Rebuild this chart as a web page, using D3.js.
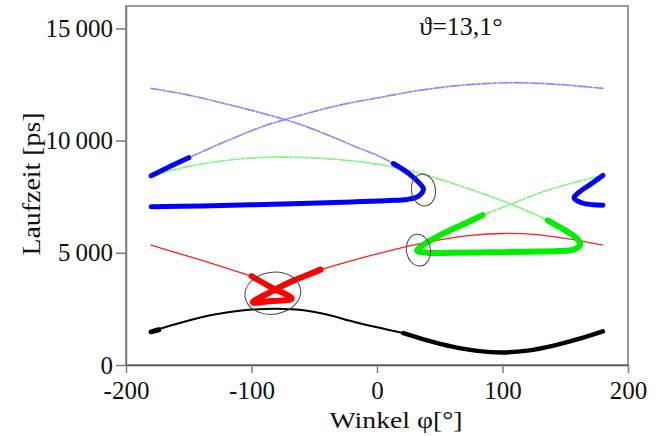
<!DOCTYPE html>
<html>
<head>
<meta charset="utf-8">
<script src="https://cdn.jsdelivr.net/npm/d3@7"></script>
<style>
  body { margin: 0; background: #fff; }
  text { font-family: "Liberation Serif", "DejaVu Serif", serif; }
</style>
</head>
<body>
<div id="chart"></div>
<script>
// tick values
var xTicks = [-200, -100, 0, 100, 200]
var yTicks = [0, 5000, 10000, 15000]

// curves, [phi in deg, Laufzeit in ps]
var blackThin = [[-180,1500],[-160,1830],[-140,2130],[-120,2340],[-100,2470],[-80,2510],[-60,2450],[-40,2250],[-20,1950],[0,1680],[21,1420]]
var blackThick = [[21,1420],[40,1100],[60,820],[80,630],[100,560],[120,640],[140,850],[160,1150],[180,1500]]
var blackStart = [[-180,1480],[-174,1570]]

var redThinA = [[-180,5340],[-140,4670],[-100,3960]]
var redLoop = [[-100,3960],[-85,3480],[-68,2960],[-84,2850],[-99,2790],[-85,3250],[-70,3680],[-55,4020],[-45,4250]]
var redThinB = [[-45,4250],[-20,4650],[0,4950],[25,5300],[50,5580],[75,5780],[100,5860],[125,5820],[150,5640],[180,5340]]

var blueFadedA = [[-180,12330],[-150,12030],[-120,11630],[-90,11200],[-60,10700],[-37,10200],[-15,9680],[0,9350],[13,8980]]
var blueThickA = [[13,8980],[25,8550],[33,8150],[37,7850],[33,7520],[24,7380],[10,7330],[-20,7270],[-60,7200],[-100,7140],[-140,7090],[-180,7050]]
var blueThickR = [[180,8450],[170,8050],[161,7700],[157,7450],[163,7230],[172,7140],[180,7120]]
var blueThickL = [[-180,8430],[-165,8850],[-150,9240]]
var blueFadedB = [[-150,9240],[-120,9980],[-90,10650],[-60,11150],[-30,11580],[0,11900],[35,12250],[70,12480],[107,12580],[140,12520],[180,12330]]

var greenFadedA = [[-180,8430],[-150,8850],[-120,9120],[-90,9250],[-60,9250],[-30,9150],[0,8950],[30,8600],[60,8100],[90,7520],[115,6980],[136,6450]]
var greenThick = [[136,6450],[150,6000],[159,5650],[162,5380],[157,5150],[145,5080],[120,5050],[90,5020],[60,5000],[40,5000],[32,5100],[36,5320],[50,5780],[68,6250],[84,6680]]
var greenFadedB = [[84,6680],[106,7150],[130,7680],[155,8100],[180,8450]]

// hand drawn rings, centres in data units
var rings = [[-83,3200],[37,7800],[33,5120]]
var angle = "ϑ=13,1°"

var W = 662, H = 436
var margin = {left: 126, right: 34, top: 6, bottom: 71}
var width = W - margin.left - margin.right
var height = H - margin.top - margin.bottom

var svg = d3.select("#chart").append("svg")
  .attr("width", W)
  .attr("height", H)

var x = d3.scaleLinear().domain([-200, 200]).range([margin.left, margin.left + width])
var y = d3.scaleLinear().domain([0, 16000]).range([margin.top + height, margin.top])

// frame
svg.append("rect")
  .attr("x", margin.left).attr("y", margin.top)
  .attr("width", width).attr("height", height)
  .attr("fill", "none").attr("stroke", "#7a7a7a").attr("stroke-width", 1.5)

var fmt = function(d) { return d === 0 ? "0" : d3.format(",")(d).replace(",", "\u2009") }

var yAxis = svg.append("g")
  .attr("transform", "translate(" + margin.left + ",0)")
  .call(d3.axisLeft(y).tickValues(yTicks).tickFormat(fmt).tickSize(10).tickSizeOuter(0).tickPadding(3))
yAxis.select(".domain").attr("stroke", "#7a7a7a").attr("stroke-width", 1.5)
yAxis.selectAll(".tick line").attr("stroke", "#7a7a7a").attr("stroke-width", 1.5)
yAxis.selectAll("text").style("font-size", "25px").attr("fill", "#111")

var xAxis = svg.append("g")
  .attr("transform", "translate(0," + (margin.top + height) + ")")
  .call(d3.axisBottom(x).tickValues(xTicks).tickFormat(function(d) { return String(d) })
    .tickSize(8).tickSizeOuter(0).tickPadding(8))
xAxis.select(".domain").attr("stroke", "#555").attr("stroke-width", 1.5)
xAxis.selectAll(".tick line").attr("stroke", "#7a7a7a").attr("stroke-width", 1.5)
xAxis.selectAll("text").style("font-size", "25px").attr("fill", "#111")

// titles
svg.append("text")
  .attr("x", 396).attr("y", 428)
  .attr("text-anchor", "middle")
  .style("font-size", "24px").attr("fill", "#111")
  .attr("textLength", 133).attr("lengthAdjust", "spacingAndGlyphs")
  .text("Winkel φ[°]")

svg.append("text")
  .attr("transform", "translate(40,184) rotate(-90)")
  .attr("text-anchor", "middle")
  .style("font-size", "25px").attr("fill", "#111")
  .attr("textLength", 143).attr("lengthAdjust", "spacingAndGlyphs")
  .text("Laufzeit [ps]")

svg.append("text")
  .attr("x", 461).attr("y", 35)
  .attr("text-anchor", "middle")
  .style("font-size", "26px").attr("fill", "#111")
  .text(angle)

var line = d3.line()
  .x(function(d) { return x(d[0]) })
  .y(function(d) { return y(d[1]) })
  .curve(d3.curveCatmullRom.alpha(0.5))

var plot = svg.append("g")

var drawCurve = function(data, color, w, dash) {
  plot.append("path")
    .datum(data)
    .attr("d", line)
    .attr("fill", "none")
    .attr("stroke", color)
    .attr("stroke-width", w)
    .attr("stroke-linecap", "round")
    .attr("stroke-linejoin", "round")
    .attr("stroke-dasharray", dash || null)
}

// faded branches first
drawCurve(blueFadedA, "#8a8aff", 1.7, "10,2,2,2")
drawCurve(blueFadedB, "#8a8aff", 1.7, "10,2,2,2")
drawCurve(greenFadedA, "#84f284", 1.7, "10,2,2,2")
drawCurve(greenFadedB, "#84f284", 1.7, "10,2,2,2")
drawCurve(redThinA, "#ff2020", 1.3)
drawCurve(redThinB, "#ff2020", 1.3)
drawCurve(blackThin, "#000", 2)

// strong branches
drawCurve(blackStart, "#000", 5)
drawCurve(blackThick, "#000", 4.5)
drawCurve(redLoop, "#ff0000", 6)
drawCurve(blueThickA, "#0000ff", 5)
drawCurve(blueThickR, "#0000ff", 5)
drawCurve(blueThickL, "#0000ff", 5)
drawCurve(greenThick, "#00ee00", 6)

// rings
var ringSize = [[28, 21], [12, 16], [12, 16]]
svg.selectAll(".ring")
  .data(rings)
  .enter()
  .append("ellipse")
  .attr("class", "ring")
  .attr("cx", function(d) { return x(d[0]) })
  .attr("cy", function(d) { return y(d[1]) })
  .attr("rx", function(d, i) { return ringSize[i][0] })
  .attr("ry", function(d, i) { return ringSize[i][1] })
  .attr("transform", function(d) { return "rotate(-8," + x(d[0]) + "," + y(d[1]) + ")" })
  .attr("fill", "none")
  .attr("stroke", "#444")
  .attr("stroke-width", 1)
</script>
</body>
</html>
